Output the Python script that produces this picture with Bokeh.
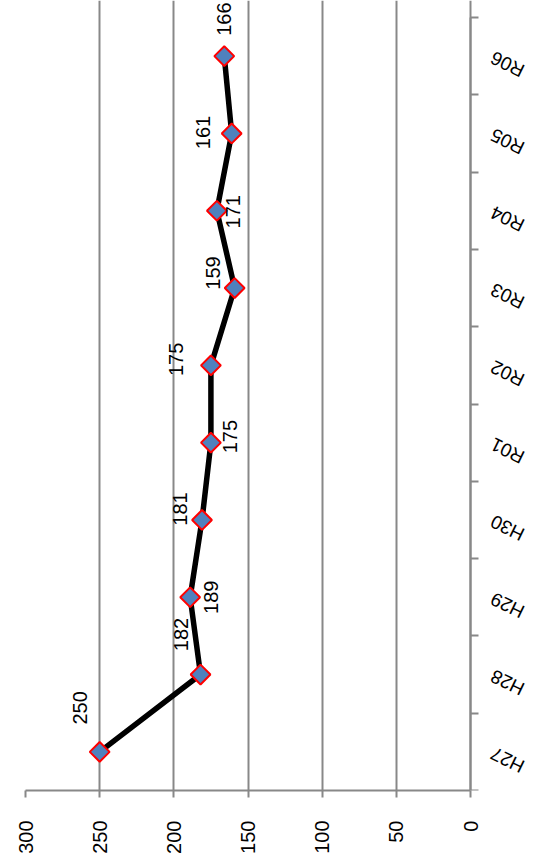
import math
from bokeh.plotting import figure
from bokeh.models import (Range1d, LinearAxis, FixedTicker, ColumnDataSource,
                          Grid, LabelSet)
from bokeh.core.properties import value
from bokeh.embed import file_html
from bokeh.resources import INLINE

# ---- data ----
categories = ["H27", "H28", "H29", "H30", "R01", "R02", "R03", "R04", "R05", "R06"]
values = [250, 182, 189, 181, 175, 175, 159, 171, 161, 166]
value_ticks = [0, 50, 100, 150, 200, 250, 300]

# label placement (screen px offsets, style only)
label_dx = [-20, -20, 21, -22, 19, -35, -22, 16, -29, 0]
label_dy = [-44, -40, 0, -11, -6, -6, -15, 1, -1, -37]

FONT = "Liberation Sans"
GRID = "#888888"

# layout (pixels)
PLOT_W, PLOT_H = 445, 773      # value-axis span / category span
PAD_R, PAD_T = 60, 17          # room for category labels / top data label
LEFT = 25

n = len(categories)
vmin, vmax = value_ticks[0], value_ticks[-1]
pos = [i + 0.5 for i in range(n)]          # category slot centres
src = ColumnDataSource(dict(
    y=pos, v=values, lbl=[str(v) for v in values],
    dx=label_dx, dy=label_dy,
))
cat_src = ColumnDataSource(dict(x=[vmin] * n, y=pos, text=categories))

upp_x = (vmax - vmin) / PLOT_W
upp_y = n / PLOT_H
p = figure(frame_width=PLOT_W + PAD_R, frame_height=PLOT_H + PAD_T,
           x_range=Range1d(vmax, vmin - PAD_R * upp_x),
           y_range=Range1d(0, n + PAD_T * upp_y),
           output_backend="svg", toolbar_location=None,
           x_axis_location=None, y_axis_location=None,
           min_border_left=LEFT, min_border_top=0,
           min_border_right=0, min_border_bottom=0,
           background_fill_color="white", border_fill_color="white")
p.outline_line_color = None
for r in list(p.center):
    if isinstance(r, Grid):
        p.center.remove(r)

# bottom value axis
xa = LinearAxis(ticker=FixedTicker(ticks=value_ticks), bounds=(vmin, vmax),
                major_label_orientation=math.pi / 2,
                major_label_text_font=FONT,
                major_label_text_font_size="20px",
                major_label_text_color="black",
                major_label_standoff=23,
                major_tick_out=7, major_tick_in=0,
                major_tick_line_color=GRID, major_tick_line_width=2,
                minor_tick_line_color=None,
                axis_line_color=GRID, axis_line_width=2)
p.add_layout(xa, "below")
p.add_layout(Grid(dimension=0, ticker=xa.ticker, bounds=(0, n),
                  grid_line_color=GRID, grid_line_width=2))

# category axis line at value 0 with ticks between categories
ya1 = LinearAxis(ticker=FixedTicker(ticks=list(range(n + 1))),
                 fixed_location=vmin, bounds=(0, n),
                 major_label_text_font_size="1px",
                 major_label_text_color=None,
                 major_label_standoff=0,
                 major_tick_out=0, major_tick_in=8,
                 major_tick_line_color=GRID, major_tick_line_width=2,
                 minor_tick_line_color=None,
                 axis_line_color=GRID, axis_line_width=2)
p.add_layout(ya1, "left")

# category labels (upside-down, tilted, as in the reference)
p.add_layout(LabelSet(x="x", y="y", text="text", source=cat_src,
                      angle=math.radians(154), x_offset=37, y_offset=-8,
                      text_align="center", text_baseline="middle",
                      text_font=value(FONT), text_font_size="19px",
                      text_color="black"))

p.line(x="v", y="y", source=src, line_color="black", line_width=5.5)
p.scatter(x="v", y="y", source=src, marker="square", angle=math.pi / 4,
          size=14, fill_color="#4F81BD", line_color="red", line_width=2)
p.text(x="v", y="y", text="lbl", source=src, angle=math.pi / 2,
       x_offset="dx", y_offset="dy",
       text_align="center", text_baseline="middle",
       text_font=value(FONT), text_font_size="20px", text_color="black")

open("out.html", "w").write(file_html(p, INLINE))
